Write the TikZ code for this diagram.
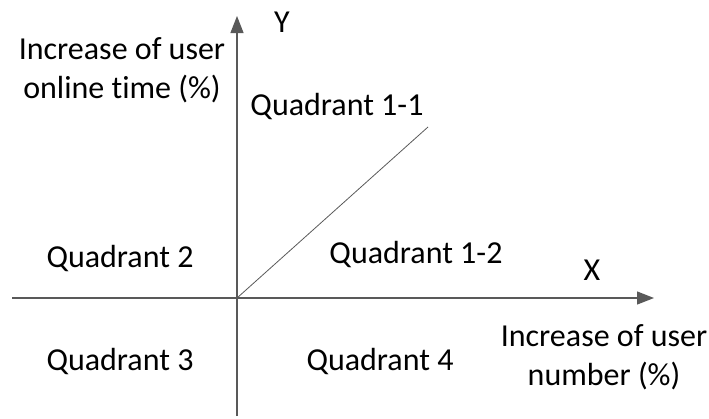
\documentclass[tikz,border=0pt]{standalone}
\usepackage{fontspec}
\setmainfont{Carlito}[Ligatures={NoCommon,NoContextual}]
\usetikzlibrary{arrows.meta}
\tikzset{
    axis/.style = {draw=black!65,line width=1.2pt,-{Triangle[length=17pt,width=13pt]}},
    split/.style = {draw=black!65,line width=0.8pt},
    lbl/.style = {align=center,inner sep=0pt,font=\fontsize{32}{39}\selectfont},
}

\begin{document}
\begin{tikzpicture}[x=1pt,y=-1pt]
\useasboundingbox (0,0) rectangle (709,418);
%
\coordinate (o) at (237,298);
\coordinate (xs) at (12,298);
\coordinate (xe) at (654,298);
\coordinate (ys) at (237,416);
\coordinate (ye) at (237,16);
\coordinate (d) at (428,127);
%
\node[lbl] at (282,22) (ylab) {Y};
\node[lbl] at (122,70) (ytext) {Increase of user\\online t\kern0pt ime (\%)};
\node[lbl] at (337,107) (q11) {Quadrant 1-1};
\node[lbl] at (120,259) (q2) {Quadrant 2};
\node[lbl] at (416,255) (q12) {Quadrant 1-2};
\node[lbl] at (592,270) (xlab) {X};
\node[lbl] at (604,357) (xtext) {Increase of user\\number (\%)};
\node[lbl] at (120,362) (q3) {Quadrant 3};
\node[lbl] at (380,362) (q4) {Quadrant 4};
%
\draw[axis] (xs) -- (xe);
\draw[axis] (ys) -- (ye);
\draw[split] (o) -- (d);
\end{tikzpicture}
\end{document}
